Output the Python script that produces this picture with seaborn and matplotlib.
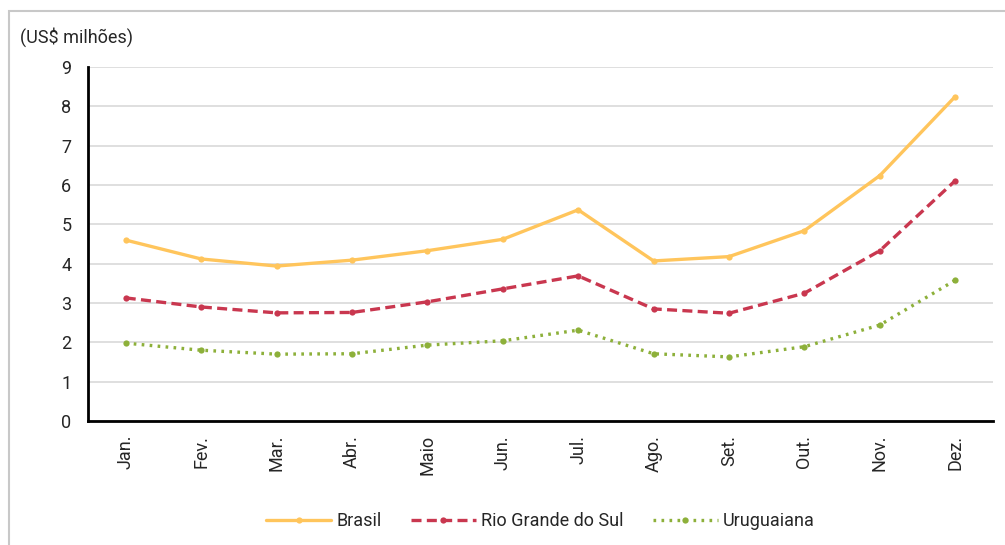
import matplotlib
matplotlib.use("Agg")
import matplotlib.pyplot as plt
import matplotlib.patches as mpatches
import seaborn as sns
import pandas as pd

months = ["Jan.", "Fev.", "Mar.", "Abr.", "Maio", "Jun.", "Jul.", "Ago.", "Set.", "Out.", "Nov.", "Dez."]
brasil = [4.60, 4.12, 3.94, 4.09, 4.33, 4.62, 5.37, 4.07, 4.18, 4.84, 6.24, 8.25]
rio_grande = [3.13, 2.90, 2.75, 2.76, 3.03, 3.36, 3.69, 2.85, 2.74, 3.25, 4.33, 6.11]
uruguaiana = [1.98, 1.80, 1.70, 1.71, 1.93, 2.04, 2.31, 1.71, 1.63, 1.89, 2.44, 3.58]
series_names = ["Brasil", "Rio Grande do Sul", "Uruguaiana"]

sns.set_style("white")
plt.rcParams["font.family"] = ["Roboto", "DejaVu Sans"]

fig = plt.figure(figsize=(10.05, 5.45), dpi=100)
ax = fig.add_axes([0.0876, 0.2275, 0.9004, 0.6495])

styles = {
    "Brasil": dict(color="#FFC55C", linestyle="-"),
    "Rio Grande do Sul": dict(color="#C9374F", linestyle=(0, (3, 1.6))),
    "Uruguaiana": dict(color="#8DB03A", linestyle=(0, (0.8, 1.6))),
}

for name, vals in zip(series_names, [brasil, rio_grande, uruguaiana]):
    df = pd.DataFrame({"mes": months, "valor": vals})
    sns.lineplot(data=df, x="mes", y="valor", ax=ax, sort=False, label=name,
                 linewidth=2.4, marker="o", markersize=4.5, markeredgewidth=0,
                 **styles[name])

ax.set_ylim(0, 9)
ax.set_xlim(-0.5, 11.5)
ax.set_yticks(range(0, 10))
ax.grid(axis="y", color="#d9d9d9", linewidth=1.2)
ax.set_axisbelow(True)
ax.set_xlabel("")
ax.set_ylabel("")

for side in ["top", "right"]:
    ax.spines[side].set_visible(False)
for side in ["left", "bottom"]:
    ax.spines[side].set_color("black")
    ax.spines[side].set_linewidth(2)

# x ticks at category boundaries, labels centered
ax.set_xticks([i - 0.5 for i in range(13)], minor=False)
ax.set_xticklabels([])
ax.set_xticks(range(12), minor=True)
ax.set_xticklabels(months, minor=True, rotation=90, fontsize=13, color="#262626")
ax.tick_params(axis="x", which="major", direction="out", length=6, width=2, color="black")
ax.tick_params(axis="x", which="minor", length=0, pad=10)
ax.tick_params(axis="y", direction="out", length=6, width=2, color="black",
               labelsize=13, labelcolor="#262626", pad=6)

fig.text(0.02, 0.932, "(US$ milhões)", fontsize=13, color="#262626", va="center")

leg = ax.legend(loc="center", bbox_to_anchor=(0.5, -0.283), ncol=3, frameon=False,
                fontsize=13, handlelength=3.6, handletextpad=0.3, columnspacing=1.6)
for t in leg.get_texts():
    t.set_color("#262626")

# light frame around the chart
fig.patches.append(mpatches.Rectangle((9 / 1005, -0.1), 1.2, 1.1 - 11 / 545,
                                      transform=fig.transFigure, fill=False,
                                      edgecolor="#c8c8c8", linewidth=1.5))

fig.savefig("out.png", dpi=100)
